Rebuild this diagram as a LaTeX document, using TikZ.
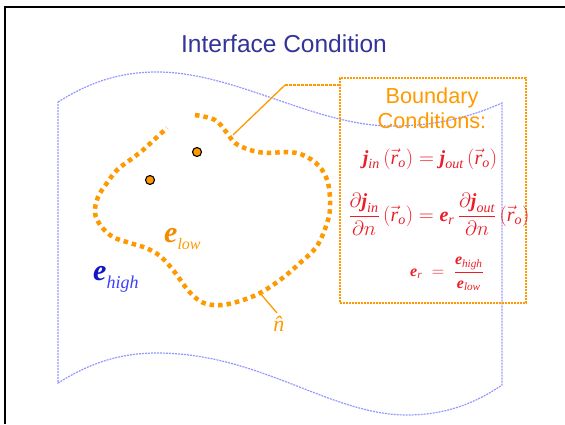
\documentclass[tikz,border=0pt]{standalone}
\usepackage{amsmath}
\usepackage{fontspec}
\setmainfont{Liberation Serif}
\newfontfamily\arialf{Liberation Sans}
\usetikzlibrary{calc}
\definecolor{titleblue}{RGB}{51,51,153}
\definecolor{flagblue}{RGB}{150,150,255}
\definecolor{orng}{RGB}{255,153,0}
\definecolor{orngdark}{RGB}{240,140,0}
\definecolor{eqred}{RGB}{235,30,40}
\definecolor{ehighblue}{RGB}{20,20,200}
\definecolor{ehighsub}{RGB}{60,60,255}
\newcommand{\bj}{\textbf{\textit{j}}}
\newcommand{\be}{\textbf{\textit{e}}}
\newcommand{\rvo}{(\vec{\textit{r}}_{\textit{o}})}
\tikzset{
  flagline/.style={draw=flagblue, line width=1.2pt, dash pattern=on 2pt off 1pt},
  blobline/.style={draw=orng, line width=4.5pt, dash pattern=on 4.5pt off 4pt},
  boxline/.style={draw=orng, line width=1.5pt, dash pattern=on 2pt off 1pt},
  leader/.style={draw=orng, line width=1.3pt},
  eqtext/.style={text=eqred, inner sep=0pt},
  pointdot/.style={circle, fill=orng, draw=black, line width=1.1pt, minimum size=9pt, inner sep=0pt}
}
\begin{document}
\begin{tikzpicture}[x=1pt,y=-1pt]
\useasboundingbox (0,0) rectangle (565,424);
% frame
\draw[black, line width=2pt] (5,424) -- (5,7) -- (565,7);
% title
\node[anchor=base, text=titleblue, inner sep=0pt] (title) at (284,52)
  {\arialf\fontsize{24.5}{28}\selectfont Interface Condition};
% flag shape
\path[flagline] (58,102) .. controls (90,82) and (120,72) .. (157,72)
  .. controls (235,72) and (315,126) .. (392,126)
  .. controls (440,126) and (475,115) .. (502,103)
  -- (502,385)
  .. controls (480,400) and (450,415) .. (407,415)
  .. controls (330,415) and (260,353) .. (157,353)
  .. controls (120,353) and (90,363) .. (58,383) -- cycle;
% boundary blob
\draw[blobline] plot[smooth, tension=0.6] coordinates {
  (195,115) (215,120) (227,133) (235,143) (250,150) (267,153) (287,152)
  (303,155) (319,166) (328,183) (330,207) (327,223) (317,246) (300,263)
  (280,280) (260,293) (243,300) (223,305) (207,304) (197,299) (187,289)
  (173,270) (160,256) (146,248) (130,243) (113,237) (101,226) (95,213)
  (98,197) (107,183) (117,170) (130,160) (143,150) (156,138) (167,128)};
% points
\node[pointdot] (p1) at (197,152) {};
\node[pointdot] (p2) at (150,180) {};
% box
\node[boxline, minimum width=186pt, minimum height=225pt, inner sep=0pt, anchor=north west] (box) at (339,77) {};
\node[anchor=base, text=orng, inner sep=0pt] (bd1) at (432,103)
  {\arialf\fontsize{21.7}{25}\selectfont Boundary};
\node[anchor=base, text=orng, inner sep=0pt] (bd2) at (432,128)
  {\arialf\fontsize{21.7}{25}\selectfont Conditions:};
% leader to box
\coordinate (blobpt) at (233,135);
\coordinate (bend) at (285,85);
\draw[leader] (blobpt) -- (bend);
\draw[leader, dash pattern=on 3pt off 1pt] (bend) -- (box.west |- bend);
% equations
\node[eqtext, anchor=base] (eq1) at (430,164)
  {\fontsize{20}{24}\selectfont $\bj_{\textit{in}}\,\rvo=\bj_{\textit{out}}\,\rvo$};
\node[eqtext] (eq2) at (439,214)
  {\fontsize{20}{24}\selectfont $\dfrac{\partial\bj_{\textit{in}}}{\partial n}\,\rvo=\be_{\textit{r}}\,\dfrac{\partial\bj_{\textit{out}}}{\partial n}\,\rvo$};
\node[eqtext] (eq3) at (447,274)
  {\fontsize{16}{19}\selectfont $\be_{\textit{r}}\;=\;\dfrac{\be_{\textit{high}}}{\be_{\textit{low}}}$};
% labels
\node[anchor=base west, inner sep=0pt] (elow) at (164,242)
  {\textcolor{orngdark}{\fontsize{30}{30}\selectfont\textbf{\textit{e}}}\raisebox{-7pt}{\textcolor{orng}{\fontsize{16}{16}\selectfont\textit{low}}}};
\node[anchor=base west, inner sep=0pt] (ehigh) at (93,280)
  {\textcolor{ehighblue}{\fontsize{30}{30}\selectfont\textbf{\textit{e}}}\raisebox{-8pt}{\textcolor{ehighsub}{\fontsize{18}{18}\selectfont\textit{high}}}};
% normal
\coordinate (nfoot) at (260,293);
\coordinate (ntip) at (277,313);
\node[text=orng, inner sep=0pt, anchor=base] (nhat) at (283,331)
  {\fontsize{22}{24}\selectfont\textit{\^{n}}};
\draw[leader] (nfoot) -- (ntip);
\end{tikzpicture}
\end{document}
